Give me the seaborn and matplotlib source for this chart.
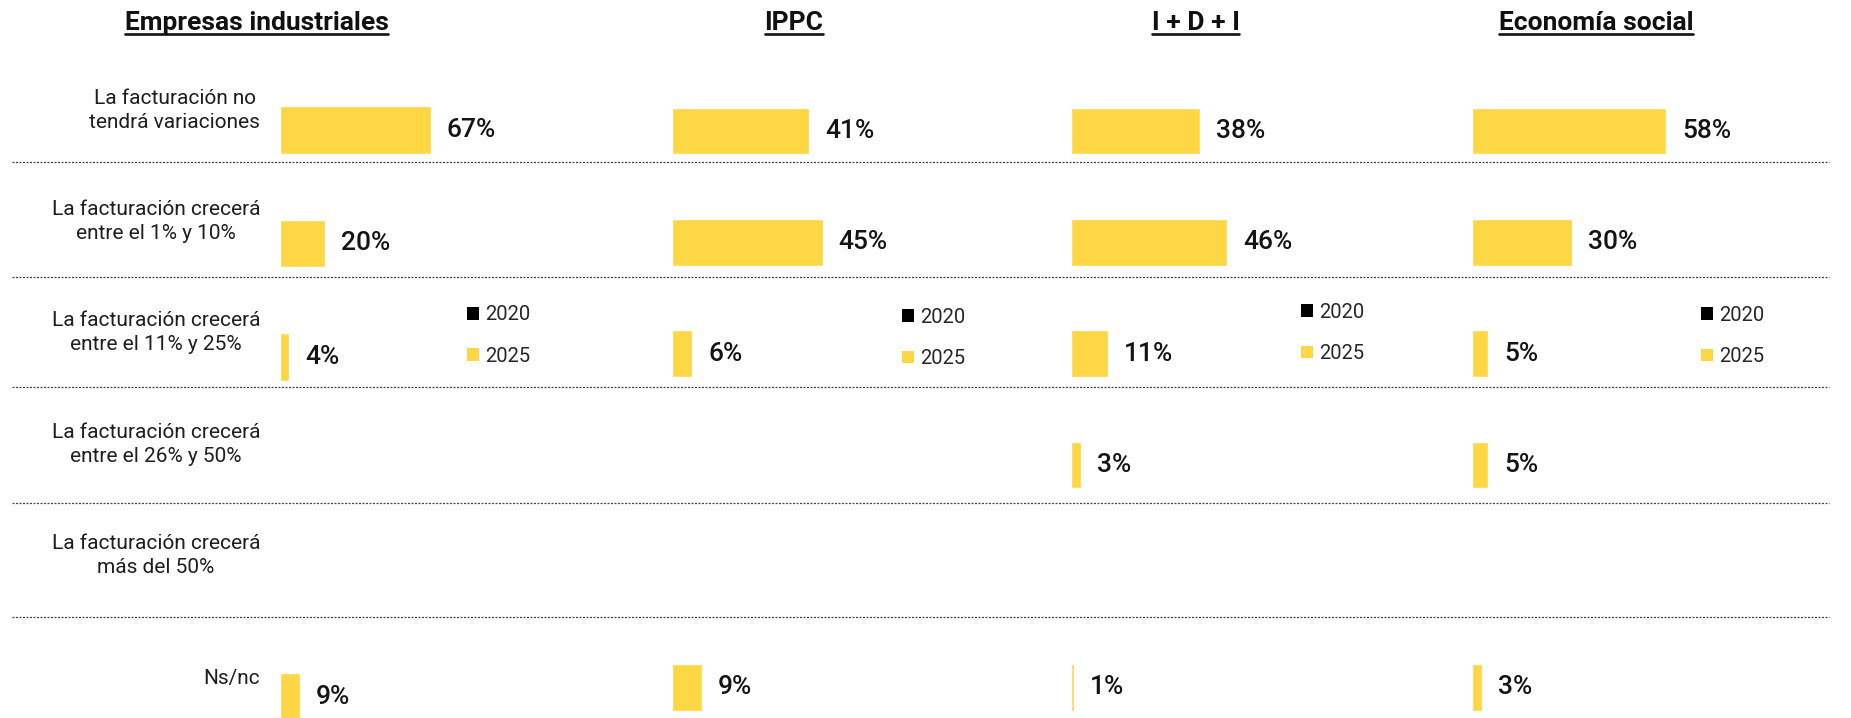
import matplotlib
matplotlib.use("Agg")
import matplotlib.pyplot as plt
from matplotlib.lines import Line2D
from matplotlib.patches import Patch
from matplotlib import transforms, font_manager
import pandas as pd
import seaborn as sns

# ---- data -------------------------------------------------------------
categorias = [
    "La facturación no\ntendrá variaciones",
    "La facturación crecerá\nentre el 1% y 10%",
    "La facturación crecerá\nentre el 11% y 25%",
    "La facturación crecerá\nentre el 26% y 50%",
    "La facturación crecerá\nmás del 50%",
    "Ns/nc",
]
paneles = ["Empresas industriales", "IPPC", "I + D + I", "Economía social"]
empresas_2025 = [67, 20, 4, None, None, 9]
ippc_2025 = [41, 45, 6, None, None, 9]
idi_2025 = [38, 46, 11, 3, None, 1]
economia_2025 = [58, 30, 5, 5, None, 3]
anios = ["2020", "2025"]
colores = {"2020": "#000000", "2025": "#FFD644"}

# ---- style ------------------------------------------------------------
sns.set_theme(style="white")
disponibles = {f.name for f in font_manager.fontManager.ttflist}
BASE = "Roboto" if "Roboto" in disponibles else "DejaVu Sans"
plt.rcParams["font.family"] = [BASE, "DejaVu Sans"]

W, H = 1851, 718
fig = plt.figure(figsize=(W / 100, H / 100), dpi=100)
fig.patch.set_facecolor("white")


def ejes_px(left, top, width, height):
    return fig.add_axes([left / W, 1 - (top + height) / H, width / W, height / H])


# panel layout: bar origin (px), px per percent, first row centre, row pitch
layout = [
    (280, 2.25, 130.0, 113.4),
    (672, 3.35, 131.0, 111.3),
    (1070.5, 3.41, 131.0, 111.3),
    (1471.5, 3.36, 131.0, 111.3),
]
valores = [empresas_2025, ippc_2025, idi_2025, economia_2025]
leyenda_px = [(466.5, 335.5), (902, 338), (1300.5, 333), (1701, 336)]

axes = []
for vals, (x0, esc, c0, paso), (lx, ly) in zip(valores, layout, leyenda_px):
    top = c0 - 0.5 * paso
    ax = ejes_px(x0, top, 100 * esc, H - top)
    df = pd.DataFrame({"categoria": categorias, "valor": vals}).dropna()
    sns.barplot(
        data=df, x="valor", y="categoria", order=categorias,
        color=colores["2025"], saturation=1, width=0.42,
        errorbar=None, ax=ax,
    )
    ax.set_xlim(0, 100)
    ax.set_ylim((H - c0) / paso, -0.5)
    ax.axis("off")
    ax.bar_label(ax.containers[0], fmt="{:.0f}%", padding=11.5,
                 fontsize=19, fontweight="medium", color="#141414")
    handles = [Patch(facecolor=colores[a], edgecolor="none") for a in anios]
    ax.legend(handles, anios, loc="center left",
              bbox_to_anchor=(lx / W, 1 - ly / H), bbox_transform=fig.transFigure,
              frameon=False, fontsize=14.5,
              handlelength=0.6, handleheight=0.6, handletextpad=0.3,
              labelspacing=1.1, borderpad=0, borderaxespad=0)
    axes.append(ax)

# row labels, right-aligned in the left margin
tr = transforms.blended_transform_factory(fig.transFigure, axes[1].transData)
for i, cat in enumerate(categorias):
    axes[1].text(260 / W, i - 0.03, cat, transform=tr, ha="right", va="baseline",
                 multialignment="center", fontsize=15, color="#1e1e1e",
                 linespacing=1.33)

# dotted separators across all panels
for y in [161.7, 277.4, 387.2, 502.9, 617.4]:
    fig.add_artist(Line2D([12 / W, 1829 / W], [1 - y / H, 1 - y / H],
                          transform=fig.transFigure, color="#444444",
                          lw=0.9, ls=(0, (1.6, 1.2))))

# underlined panel titles
titulos = []
for nombre, cx in zip(paneles, [256.5, 794, 1195.5, 1596]):
    titulos.append(fig.text(cx / W, 1 - 30 / H, nombre, ha="center", va="baseline",
                            fontsize=19, fontweight="bold", color="#111111"))
fig.canvas.draw()
r = fig.canvas.get_renderer()
for t in titulos:
    bb = t.get_window_extent(r)
    fig.add_artist(Line2D([bb.x0 / W, bb.x1 / W], [1 - 34 / H, 1 - 34 / H],
                          transform=fig.transFigure, color="#111111", lw=1.9))

fig.savefig("out.png", dpi=100, facecolor="white")
